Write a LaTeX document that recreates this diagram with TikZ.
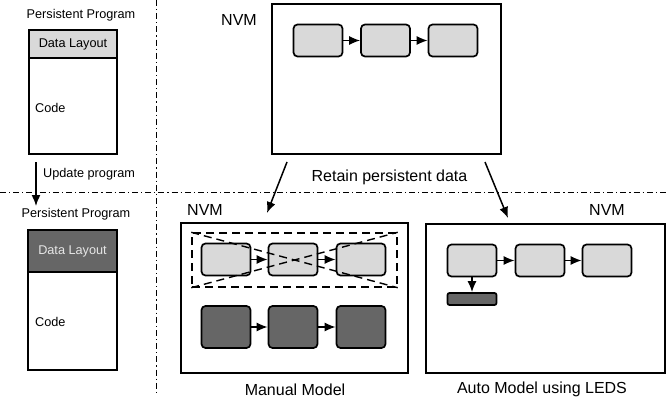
\documentclass[tikz,border=0pt]{standalone}
\usepackage{fontspec}
\setmainfont{Liberation Sans}
\usetikzlibrary{positioning,arrows.meta}

\definecolor{cellgray}{HTML}{D9D9D9}
\definecolor{cellgraydark}{HTML}{666666}
\definecolor{textlight}{HTML}{E6E6E6}

\tikzset{
  cell/.style={draw, line width=1.7pt, rounded corners=4pt, fill=cellgray,
    minimum width=49pt, minimum height=32pt, inner sep=0pt},
  darkcell/.style={cell, fill=cellgraydark},
  frame/.style={draw, line width=1.4pt, inner sep=0pt},
  lbl/.style={font=\fontsize{16}{19}\selectfont, inner sep=0pt},
  small/.style={font=\fontsize{12.7}{15}\selectfont, inner sep=0pt},
  sepline/.style={line width=0.7pt, dash pattern=on 6pt off 3pt on 1.2pt off 3pt},
  grouped/.style={line width=1.4pt, dash pattern=on 8pt off 5pt},
  flow/.style={-{Latex[length=11pt,width=9pt]}, line width=1.5pt},
}

\begin{document}
\begin{tikzpicture}[x=1pt,y=-1pt]
\useasboundingbox (0,0) rectangle (669,401);

% separators
\draw [sepline] (0,192) -- (669,192);
\draw [sepline] (156,0) -- (156,392);

% old program
\node [small] (titleold) at (81,15) {Persistent Program};
\node [frame, fill=cellgray, minimum width=88pt, minimum height=28pt, small] (layoutold) at (73,44) {Data Layout};
\node [frame, minimum width=88pt, minimum height=96pt] (codeold) at (73,106) {};
\node [small, anchor=west] at (35,108) {Code};

\coordinate (upd0) at (36,162);
\coordinate (upd1) at (36,206);
\draw [flow] (upd0) -- (upd1);
\node [small, anchor=west] (updtext) at (43,174) {Update program};

% new program
\node [small] (titlenew) at (76,214) {Persistent Program};
\node [frame, fill=cellgraydark, text=textlight, minimum width=89pt, minimum height=42pt, small] (layoutnew) at (72.5,251) {Data Layout};
\node [frame, minimum width=89pt, minimum height=98pt] (codenew) at (72.5,321) {};
\node [small, anchor=west] at (35,322) {Code};

% NVM before update
\node [lbl] (nvmA) at (239,20) {NVM};
\node [frame, minimum width=229pt, minimum height=150pt] (topnvm) at (386.5,79) {};
\node [cell] (t1) at (318,40.5) {};
\node [cell] (t2) at (385.5,40.5) {};
\node [cell] (t3) at (453,40.5) {};
\draw [flow] (t1) -- (t2);
\draw [flow] (t2) -- (t3);

\node [lbl] (retain) at (389.5,177) {Retain persistent data};
\coordinate (ml0) at (287,162);
\coordinate (ml1) at (267,213);
\coordinate (al0) at (485,162);
\coordinate (al1) at (508,218);
\draw [flow] (ml0) -- (ml1);
\draw [flow] (al0) -- (al1);

% manual model
\node [lbl] (nvmB) at (205,210) {NVM};
\node [frame, minimum width=227pt, minimum height=150pt] (manual) at (294.5,298) {};
\node [cell] (m1) at (226,259.5) {};
\node [cell] (m2) at (293,259.5) {};
\node [cell] (m3) at (361,259.5) {};
\draw [flow] (m1) -- (m2);
\draw [flow] (m2) -- (m3);
\node [draw, grouped, minimum width=205pt, minimum height=54pt] (group) at (294.5,260) {};
\draw [grouped] (group.north west) -- (group.south east);
\draw [grouped] (group.south west) -- (group.north east);
\node [darkcell, minimum height=42pt] (d1) at (226,327) {};
\node [darkcell, minimum height=42pt] (d2) at (293,327) {};
\node [darkcell, minimum height=42pt] (d3) at (361,327) {};
\draw [flow] (d1) -- (d2);
\draw [flow] (d2) -- (d3);
\node [lbl] (manualtext) at (295,390) {Manual Model};

% auto model
\node [lbl] (nvmC) at (607,210) {NVM};
\node [frame, minimum width=239pt, minimum height=149pt] (auto) at (545.5,298.5) {};
\node [cell] (a1) at (472,260.5) {};
\node [cell] (a2) at (540,260.5) {};
\node [cell] (a3) at (607,260.5) {};
\draw [flow] (a1) -- (a2);
\draw [flow] (a2) -- (a3);
\node [darkcell, minimum height=12pt, rounded corners=2pt] (bar) at (472,299) {};
\draw [flow] (a1) -- (bar);
\node [lbl] (autotext) at (542,389) {Auto Model using LEDS};

\end{tikzpicture}
\end{document}
